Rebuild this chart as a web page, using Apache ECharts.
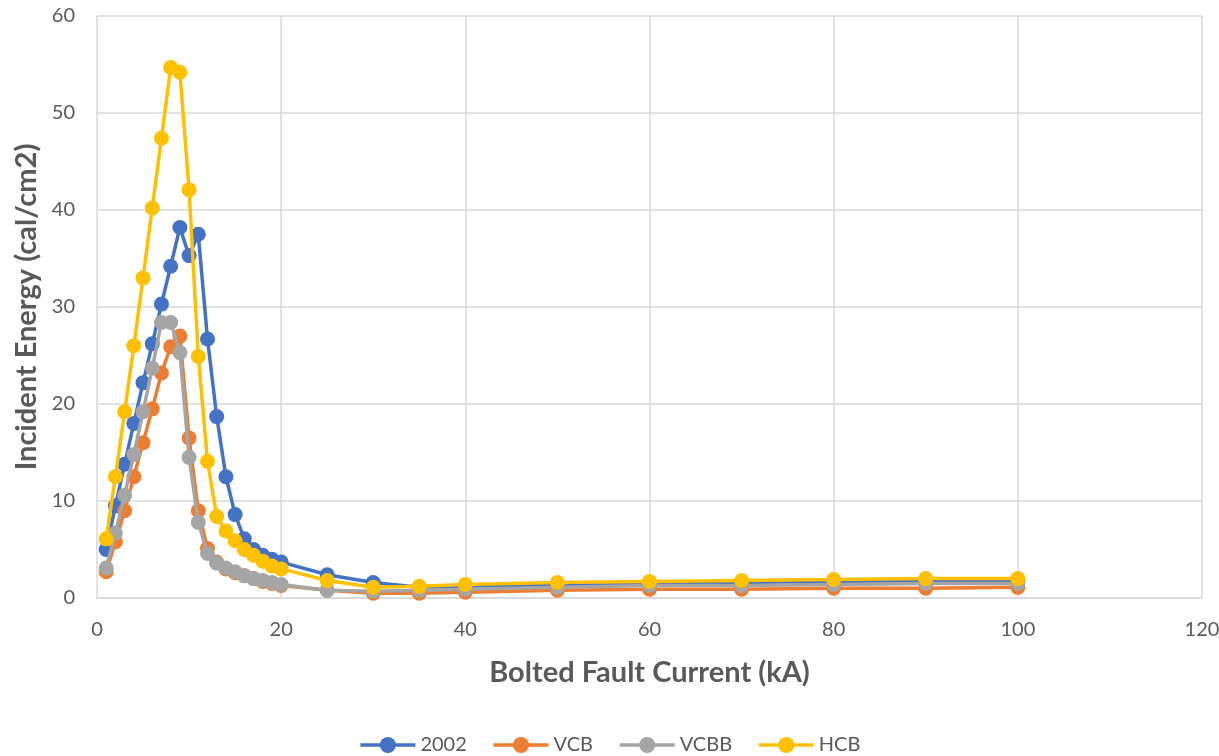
<!DOCTYPE html>
<html>
<head>
<meta charset="utf-8">
<script src="https://cdn.jsdelivr.net/npm/echarts@6/dist/echarts.min.js"></script>
<style>
html,body{margin:0;padding:0;background:#fff;}
#chart{width:1219px;height:756px;}
</style>
</head>
<body>
<div id="chart"></div>
<script>
const xValues = [1,2,3,4,5,6,7,8,9,10,11,12,13,14,15,16,17,18,19,20,25,30,35,40,50,60,70,80,90,100];
const s2002 = [5.0,9.5,13.8,18.0,22.2,26.2,30.3,34.2,38.2,35.3,37.5,26.7,18.7,12.5,8.6,6.1,5.0,4.4,4.0,3.7,2.4,1.6,1.1,1.2,1.4,1.5,1.6,1.7,1.8,1.8];
const sVCB = [2.7,5.8,9.0,12.5,16.0,19.5,23.2,25.9,27.0,16.5,9.0,5.1,3.7,3.0,2.6,2.3,2.0,1.7,1.5,1.3,0.8,0.5,0.5,0.6,0.8,0.9,0.9,1.0,1.0,1.1];
const sVCBB = [3.1,6.7,10.6,14.8,19.2,23.7,28.4,28.4,25.3,14.5,7.8,4.6,3.6,3.1,2.7,2.3,2.0,1.8,1.6,1.4,0.8,0.7,0.8,0.9,1.1,1.3,1.3,1.4,1.5,1.5];
const sHCB = [6.1,12.5,19.2,26.0,33.0,40.2,47.4,54.7,54.2,42.1,24.9,14.1,8.4,6.9,5.9,5.0,4.4,3.8,3.3,3.0,1.8,1.1,1.2,1.4,1.6,1.7,1.8,1.9,2.0,2.0];
const seriesNames = ['2002','VCB','VCBB','HCB'];
const seriesColors = ['#4472C4','#ED7D31','#A5A5A5','#FFC000'];
const seriesData = [s2002, sVCB, sVCBB, sHCB];

const font = 'Lato, "Open Sans", sans-serif';
const chart = echarts.init(document.getElementById('chart'));
chart.setOption({
  animation: false,
  textStyle: {fontFamily: font},
  grid: {left: 97, right: 17, top: 16, bottom: 158, containLabel: false, outerBoundsMode: 'none'},
  xAxis: {
    type: 'value', min: 0, max: 120, interval: 20,
    name: 'Bolted Fault Current (kA)', nameLocation: 'middle', nameGap: 60,
    nameTextStyle: {fontSize: 29, fontWeight: 'bold', color: '#595959', fontFamily: font},
    axisLine: {show: true, lineStyle: {color: '#D9D9D9', width: 1.5}},
    axisTick: {show: false},
    axisLabel: {fontSize: 20, color: '#595959', margin: 22},
    splitLine: {show: true, lineStyle: {color: '#D9D9D9', width: 1.5}}
  },
  yAxis: {
    type: 'value', min: 0, max: 60, interval: 10,
    name: 'Incident Energy (cal/cm2)', nameLocation: 'middle', nameGap: 50, nameRotate: 90,
    nameTextStyle: {fontSize: 29, fontWeight: 'bold', color: '#595959', fontFamily: font},
    axisLine: {show: false},
    axisTick: {show: false},
    axisLabel: {fontSize: 20, color: '#595959', margin: 22},
    splitLine: {show: true, lineStyle: {color: '#D9D9D9', width: 1.5}}
  },
  legend: {
    top: 730, left: 'center', itemWidth: 55, itemHeight: 20, itemGap: 25,
    textStyle: {fontSize: 20, color: '#595959', fontFamily: font},
    lineStyle: {width: 3.5},
    data: seriesNames
  },
  series: seriesNames.map((n, i) => ({
    name: n, type: 'line',
    data: xValues.map((x, j) => [x, seriesData[i][j]]),
    symbol: 'circle', symbolSize: 15,
    lineStyle: {color: seriesColors[i], width: 3.5},
    itemStyle: {color: seriesColors[i]},
    z: 2 + i
  }))
});
</script>
</body>
</html>
